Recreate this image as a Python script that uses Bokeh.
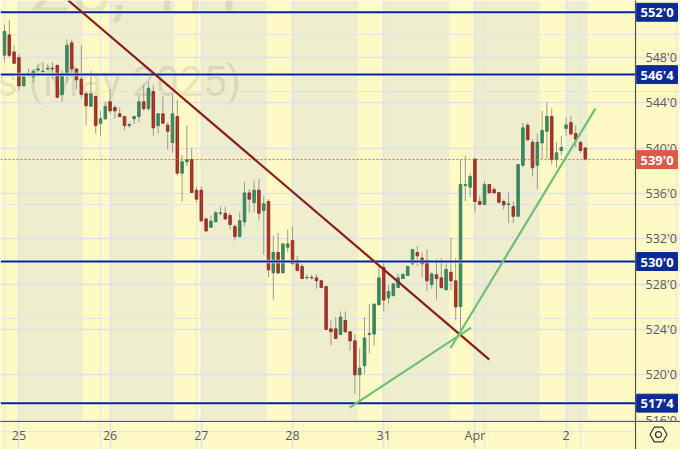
from bokeh.plotting import figure
from bokeh.embed import file_html
from bokeh.resources import INLINE
from bokeh.models import FixedTicker, LinearAxis, Grid, ColumnDataSource
from bokeh.core.properties import value

opens = [548.2,550.0,548.5,548.0,545.5,546.5,546.3,546.9,546.75,547.0,547.05,547.3,544.75,546.5,549.3,547.0,546.1,544.8,543.7,544.6,
 542.2,542.6,544.1,543.6,543.04,542.8,542.0,542.6,542.8,544.1,543.5,545.0,542.0,543.04,542.04,540.5,542.8,537.8,538.8,539.0,
 536.3,536.3,533.76,533.03,533.5,534.26,534.26,534.06,533.1,532.2,533.5,536.06,535.2,536.3,534.5,535.3,529.0,530.8,529.0,531.26,
 531.85,530.1,529.56,528.56,528.6,528.56,528.3,527.8,524.06,524.06,523.56,524.8,523.8,523.0,520.0,520.8,523.56,523.6,526.2,529.5,
 526.8,527.0,527.7,528.5,528.77,529.8,530.8,530.3,530.1,527.97,528.83,528.56,527.5,529.06,528.3,526.03,536.7,536.56,539.06,535.3,
 535.03,536.8,536.35,536.09,535.3,535.03,534.85,534.0,538.5,542.03,540.53,538.5,540.47,541.5,542.8,539.0,539.8,541.74,542.27,541.3,
 540.53,540.03]
highs = [550.9,551.3,549.1,548.3,546.4,547.0,547.0,547.4,547.6,547.4,547.6,547.45,546.9,549.6,549.6,547.0,549.1,545.0,546.8,544.6,
 543.3,544.1,545.25,543.8,543.6,542.8,542.25,542.9,544.6,545.6,545.8,545.6,543.1,544.6,542.3,544.8,544.3,539.4,542.0,540.0,
 536.6,536.6,533.9,534.06,534.5,534.85,534.85,534.3,533.3,534.35,537.0,536.4,537.15,537.3,535.76,535.5,532.3,532.5,531.56,532.8,
 533.1,530.5,529.8,528.85,528.85,528.9,528.4,527.8,524.8,525.1,525.6,525.6,523.85,523.56,522.35,525.1,526.25,526.25,529.56,530.1,
 527.9,528.1,528.9,528.97,529.65,531.1,531.4,530.8,531.06,529.06,530.24,530.3,530.15,532.1,530.3,539.0,539.35,537.8,539.06,535.8,
 537.1,536.85,536.56,536.1,535.5,536.1,535.3,538.56,542.24,542.24,540.8,541.27,543.3,544.1,543.5,540.53,541.06,542.74,542.85,542.0,
 540.6,540.09]
lows = [547.6,548.0,547.4,545.1,545.5,546.3,545.8,546.7,546.7,546.9,546.1,544.4,544.1,545.8,546.3,545.25,544.4,542.04,543.7,541.3,
 541.1,542.5,543.04,542.6,542.7,541.6,541.8,542.1,542.3,543.3,543.3,541.1,541.3,542.2,539.9,539.6,537.6,535.3,538.4,536.04,
 535.2,533.5,532.6,532.97,533.5,534.06,533.67,532.8,531.85,532.1,533.1,534.3,534.35,533.6,530.6,528.6,526.65,528.85,529.0,530.8,
 529.8,529.2,528.5,528.4,528.4,527.6,527.7,524.0,522.6,523.2,523.5,523.7,522.15,518.3,517.7,520.1,521.9,522.6,526.06,525.6,
 526.3,526.9,527.7,528.5,528.77,529.65,529.6,528.6,527.4,527.6,526.65,527.6,527.5,527.45,524.86,523.5,535.3,535.7,534.3,535.0,
 535.0,536.03,536.03,535.09,534.6,533.4,533.4,533.9,538.3,540.68,537.5,536.4,539.06,539.06,538.56,538.3,539.35,541.1,541.1,540.09,
 539.6,539.0]
closes = [550.3,548.2,547.5,545.5,546.3,546.6,546.8,547.0,546.8,547.05,547.0,544.5,546.6,549.1,547.0,546.04,544.75,543.75,544.8,542.0,
 542.6,543.7,543.3,543.3,542.8,542.0,542.1,542.8,544.1,543.5,545.3,541.8,543.04,542.2,541.5,543.04,537.8,538.8,539.0,536.1,
 535.5,533.6,532.7,533.56,534.3,534.3,533.76,533.26,532.2,533.6,536.06,535.5,536.3,534.26,535.1,529.26,530.8,529.0,531.56,531.56,
 529.8,529.2,528.5,528.6,528.56,528.3,527.7,524.0,523.8,523.2,525.1,523.8,523.0,520.0,520.6,523.25,523.65,526.25,528.56,526.6,
 527.35,528.03,528.56,528.86,529.56,531.06,530.5,529.8,528.3,528.9,528.5,527.7,529.3,528.3,526.0,536.8,536.8,537.5,535.3,535.03,
 536.8,536.06,536.06,535.24,535.0,535.09,534.0,538.56,541.8,540.74,538.27,540.53,541.56,542.8,539.0,539.6,540.06,542.06,541.27,540.8,
 539.8,539.0]

price_ticks = [516,520,524,528,532,536,540,544,548]
price_labels = ["516'0","520'0","524'0","528'0","532'0","536'0","540'0","544'0","548'0"]
day_ticks = [3,22,41,60,79,98,117]
day_labels = ["25","26","27","28","31","Apr","2"]
band_starts = [3,22,41,60,79,98,117]
band_ends = [16.3,35.4,54.6,73.6,92.7,111.5,121.5]
level_prices = [552.0,546.5,530.0,517.5]
level_labels = ["552'0","546'4","530'0","517'4"]
last_price = 539.0
last_label = "539'0"
resist_x = [13.3,101.0]
resist_y = [553.04,521.35]
rise1_x = [71.9,97.2]
rise1_y = [517.1,524.17]
rise2_x = [92.9,123.1]
rise2_y = [522.35,543.5]

YELLOW = "#FFF9C6"
GREY = "#EEEDCD"
GRID = "#DFE2EC"
BLUE = "#00238F"
TAG_BLUE = "#0A2A96"
TAG_RED = "#DC5A48"
INK = "#5A5A5A"
FONT = "Open Sans"

XMIN, XMAX = -0.833, 131.46     # plot area along the bars
YMIN, YMAX = 515.88, 553.04     # plot area along the prices
XEND, YEND = 140.83, 513.41     # the canvas edge, past the two axes

p = figure(frame_width=680, frame_height=449, output_backend="svg", toolbar_location=None,
           x_range=(XMIN, XEND), y_range=(YEND, YMAX), x_axis_location=None, y_axis_location=None,
           min_border=0, background_fill_color=YELLOW, border_fill_color=YELLOW, outline_line_color=None)

p.quad(left=band_starts, right=band_ends, bottom=YMIN, top=YMAX, fill_color=GREY, line_color=None, level="image")

p.add_layout(Grid(dimension=0, ticker=FixedTicker(ticks=day_ticks), bounds=(YMIN, YMAX), grid_line_color=GRID, grid_line_width=1.5))
p.add_layout(Grid(dimension=1, ticker=FixedTicker(ticks=price_ticks), bounds=(XMIN, XMAX), grid_line_color=GRID, grid_line_width=1.5))

xax = LinearAxis(fixed_location=YMIN, ticker=FixedTicker(ticks=day_ticks),
                 major_label_overrides=dict(zip(day_ticks, day_labels)), major_label_standoff=5)
yax = LinearAxis(fixed_location=XMAX, ticker=FixedTicker(ticks=price_ticks),
                 major_label_overrides=dict(zip(price_ticks, price_labels)), major_label_standoff=10)
for ax in (xax, yax):
    ax.axis_line_color = None
    ax.major_tick_line_color = None
    ax.minor_tick_line_color = None
    ax.major_tick_in = 0
    ax.major_tick_out = 0
    ax.major_label_text_font = FONT
    ax.major_label_text_font_size = "12.5px"
    ax.major_label_text_color = INK
p.add_layout(xax, "below")
p.add_layout(yax, "right")

p.text(x=[48.8], y=[554.2], text=["25, 1H"], text_align="right", text_baseline="alphabetic",
       text_font=value("Roboto"), text_font_size="74px", text_color="#000000", text_alpha=0.08, level="underlay")
p.text(x=[49.3], y=[545.9], text=["s (May 2025)"], text_align="right", text_baseline="alphabetic",
       text_font=value("Roboto"), text_font_size="42px", text_color="#000000", text_alpha=0.09, level="underlay")

idx = list(range(len(opens)))
colors = ["#3C8A63" if c >= o else "#A93428" for o, c in zip(opens, closes)]
edges = ["#2F7A55" if c >= o else "#8C2A20" for o, c in zip(opens, closes)]
src = ColumnDataSource(dict(x=idx, o=opens, h=highs, l=lows, c=closes, fc=colors, lc=edges))
p.segment(x0="x", x1="x", y0="l", y1="h", source=src, line_color="#9A9A90", line_width=1)
p.vbar(x="x", width=0.55, bottom="o", top="c", source=src, fill_color="fc", line_color="lc", line_width=0.8)

p.line([XMIN, XMAX], [last_price, last_price], line_color="#E8604E", line_width=1, line_dash="2 2")
for lv in level_prices:
    p.line([XMIN, XMAX], [lv, lv], line_color="#FFFFFF", line_width=3.5, line_alpha=0.8)
    p.line([XMIN, XMAX], [lv, lv], line_color=BLUE, line_width=2)

p.line(resist_x, resist_y, line_color="#8A1C1C", line_width=2.2)
p.line(rise1_x, rise1_y, line_color="#6CC074", line_width=2.2)
p.line(rise2_x, rise2_y, line_color="#6CC074", line_width=2.2)

# strip under the time axis on the right: the lowest price label is cut there
p.quad(left=[XMAX], right=[XEND], bottom=[YEND], top=[YMIN], fill_color=YELLOW, line_color=None, level="annotation")
p.segment(x0=[XMIN, XMAX], x1=[XEND, XMAX], y0=[YMIN, YMAX], y1=[YMIN, YEND], line_color="#55554F", line_width=1.2, level="annotation")

tag_prices = level_prices + [last_price]
tag_texts = level_labels + [last_label]
tag_colors = [TAG_BLUE] * len(level_prices) + [TAG_RED]
p.quad(left=131.7, right=140.2, bottom=[t - 0.79 for t in tag_prices], top=[t + 0.79 for t in tag_prices],
       fill_color=tag_colors, line_color=tag_colors, level="annotation")
p.text(x=135.95, y=tag_prices, text=tag_texts, text_align="center", text_baseline="middle",
       text_font=value(FONT), text_font_size="13px", text_font_style="bold", text_color="#FFFFFF", level="annotation")

p.scatter(x=[136.25], y=[514.73], marker="hex", size=17, fill_alpha=0, line_color="#333333", line_width=1.2, level="annotation")
p.scatter(x=[136.25], y=[514.73], marker="circle", size=6, fill_alpha=0, line_color="#333333", line_width=1.2, level="annotation")

open("out.html", "w").write(file_html(p, INLINE))
